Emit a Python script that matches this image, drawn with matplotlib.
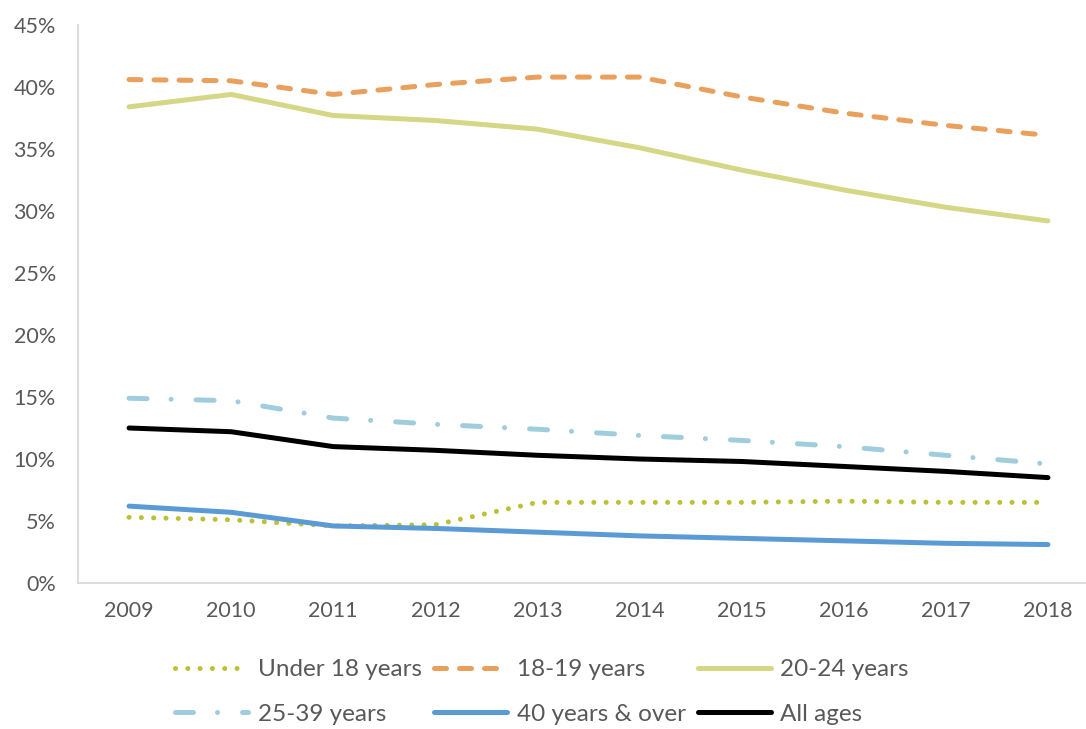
import matplotlib
matplotlib.use("Agg")
import matplotlib.pyplot as plt
from matplotlib.ticker import PercentFormatter

# Data (percent)
years = [2009, 2010, 2011, 2012, 2013, 2014, 2015, 2016, 2017, 2018]
under_18 = [5.3, 5.1, 4.6, 4.7, 6.5, 6.5, 6.5, 6.6, 6.5, 6.5]
age_18_19 = [40.6, 40.5, 39.4, 40.2, 40.8, 40.8, 39.2, 37.9, 36.9, 36.1]
age_20_24 = [38.4, 39.4, 37.7, 37.3, 36.6, 35.1, 33.3, 31.7, 30.3, 29.2]
age_25_39 = [14.9, 14.7, 13.3, 12.8, 12.4, 11.9, 11.5, 11.0, 10.3, 9.6]
age_40_plus = [6.2, 5.7, 4.6, 4.4, 4.1, 3.8, 3.6, 3.4, 3.2, 3.1]
all_ages = [12.5, 12.2, 11.0, 10.7, 10.3, 10.0, 9.8, 9.4, 9.0, 8.5]

plt.rcParams['font.family'] = ['Lato', 'DejaVu Sans']
grey = '#595959'

fig = plt.figure(figsize=(10.86, 7.29), dpi=100)
ax = fig.add_axes([78 / 1086, 146 / 729, (1099 - 78) / 1086, (583 - 25) / 729])

lw = 3.6
ax.plot(years, under_18, color='#BDC034', lw=lw, linestyle=(0, (0.01, 2.45)),
        dash_capstyle='round', label='Under 18 years')
ax.plot(years, age_18_19, color='#E8A05C', lw=lw, linestyle=(0, (2.4, 2.6)),
        dash_capstyle='round', label='18-19 years')
ax.plot(years, age_20_24, color='#D4D886', lw=lw, solid_capstyle='round',
        label='20-24 years')
ax.plot(years, age_25_39, color='#A0CDDD', lw=lw, linestyle=(0, (3.6, 4.8, 0.01, 5.0)),
        dash_capstyle='round', label='25-39 years')
ax.plot(years, age_40_plus, color='#5B9BD5', lw=lw, solid_capstyle='round',
        label='40 years & over')
ax.plot(years, all_ages, color='black', lw=lw, solid_capstyle='round',
        label='All ages')

ax.set_xlim(2008.5, 2018.5)
ax.set_ylim(0, 45)
ax.set_yticks(range(0, 46, 5))
ax.set_xticks(years)
ax.yaxis.set_major_formatter(PercentFormatter(decimals=0))

for side in ['top', 'right']:
    ax.spines[side].set_visible(False)
for side in ['left', 'bottom']:
    ax.spines[side].set_color('#D9D9D9')
    ax.spines[side].set_linewidth(1.3)
ax.tick_params(axis='both', length=0, labelsize=15.5, colors=grey)
ax.tick_params(axis='y', pad=16)
ax.tick_params(axis='x', pad=13)

# legend reads row by row in the reference, matplotlib fills columns first
handles, labels = ax.get_legend_handles_labels()
order = [0, 3, 1, 4, 2, 5]
leg = fig.legend([handles[i] for i in order], [labels[i] for i in order],
                 loc='center', bbox_to_anchor=(542 / 1086, 1 - 692 / 729),
                 ncol=3, frameon=False, fontsize=17.5, handlelength=3.0,
                 handletextpad=0.4, columnspacing=0.5, labelspacing=0.95,
                 borderpad=0)
for t in leg.get_texts():
    t.set_color(grey)

fig.savefig('out.png', dpi=100)
